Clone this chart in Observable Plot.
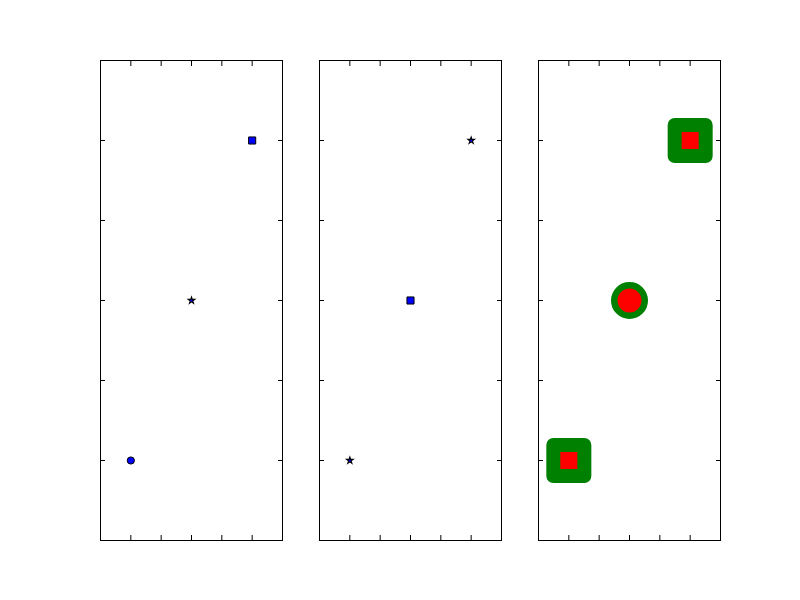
<!DOCTYPE html>
<html><head><meta charset="utf-8">
<script src="https://cdn.jsdelivr.net/npm/d3@7"></script>
<script src="https://cdn.jsdelivr.net/npm/@observablehq/plot@0.6"></script>
<style>body{margin:0;background:#fff}</style>
</head><body><div id="chart"></div>
<script>
const panels = [0, 1, 2];
const xValues = [1, 2, 3];
const yValues = [1, 2, 3];
const panelSymbols = [
  ["circle", "star", "square"],
  ["star", "square", "star"],
  ["square", "circle", "square"]
];
const tickValues = [1, 1.5, 2, 2.5, 3];

const rows = [];
panels.forEach(p => xValues.forEach((x, i) => rows.push({panel: p, x, y: yValues[i], symbol: panelSymbols[p][i]})));
const small = rows.filter(d => d.panel < 2);
const big = rows.filter(d => d.panel === 2);

const smallR = d => d.symbol === "star" ? 2.1 : d.symbol === "square" ? 4 : 3.6;
const smallSW = d => d.symbol === "star" ? 1.1 : 1;
const bigR = d => d.symbol === "circle" ? 15.25 : 17.5;
const bigSW = d => d.symbol === "circle" ? 6.5 : 14;

const tickOpts = {ticks: tickValues, tickFormat: () => "", label: null, tickSize: -5, facetAnchor: null, stroke: "black"};

const chart = Plot.plot({
  width: 800, height: 600,
  marginLeft: 100, marginRight: 80, marginTop: 60, marginBottom: 60,
  style: {background: "white"},
  fx: {domain: panels, paddingInner: 37/219, paddingOuter: 0, axis: null, label: null},
  x: {domain: [0.5, 3.5]},
  y: {domain: [0.5, 3.5]},
  r: {type: "identity"},
  marks: [
    Plot.axisX({...tickOpts, anchor: "bottom"}),
    Plot.axisX({...tickOpts, anchor: "top"}),
    Plot.axisY({...tickOpts, anchor: "left"}),
    Plot.axisY({...tickOpts, anchor: "right"}),
    Plot.frame({stroke: "black", strokeWidth: 1}),
    Plot.dot(small, {x: "x", y: "y", fx: "panel", symbol: "symbol", r: smallR, fill: "#0000ff", stroke: "black", strokeWidth: smallSW}),
    Plot.dot(big, {x: "x", y: "y", fx: "panel", symbol: "symbol", r: bigR, fill: "#ff0000", stroke: "#008000", strokeWidth: bigSW, strokeLinejoin: "round"})
  ]
});
document.getElementById("chart").appendChild(chart);
</script>
</body></html>
